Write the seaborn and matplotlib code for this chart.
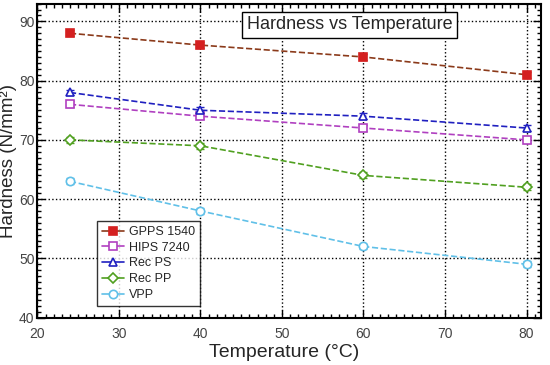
import pandas as pd
import matplotlib.pyplot as plt
import seaborn as sns

# Data
temperature = [24, 40, 60, 80]
series_names = ["GPPS 1540", "HIPS 7240", "Rec PS", "Rec PP", "VPP"]
gpps_1540 = [88, 86, 84, 81]
hips_7240 = [76, 74, 72, 70]
rec_ps = [78, 75, 74, 72]
rec_pp = [70, 69, 64, 62]
vpp = [63, 58, 52, 49]
errors = [0.5, 0.5, 0.5, 0.5]

# Styles per series: line colour, marker colour, marker, filled
styles = {
    "GPPS 1540": ("#8b3a1a", "#d42020", "s", True),
    "HIPS 7240": ("#b040c0", "#b040c0", "s", False),
    "Rec PS": ("#2020c0", "#2020c0", "^", False),
    "Rec PP": ("#50a020", "#50a020", "D", False),
    "VPP": ("#60c0e8", "#60c0e8", "o", False),
}


def build_frame():
    rows = []
    for name, vals in zip(series_names, [gpps_1540, hips_7240, rec_ps, rec_pp, vpp]):
        for t, v, e in zip(temperature, vals, errors):
            rows.append({"Temperature": t, "Hardness": v, "err": e, "Series": name})
    return pd.DataFrame(rows)


def plot_chart(df):
    sns.set_style("ticks")
    plt.rcParams["font.family"] = ["Liberation Sans", "DejaVu Sans"]
    fig, ax = plt.subplots(figsize=(5.5, 3.65), dpi=100)

    for name in series_names:
        sub = df[df["Series"] == name]
        line_c, mark_c, marker, filled = styles[name]
        ax.errorbar(sub["Temperature"], sub["Hardness"], yerr=sub["err"],
                    fmt="none", ecolor=mark_c, elinewidth=1, capsize=3, zorder=2)
        sns.lineplot(data=sub, x="Temperature", y="Hardness", ax=ax,
                     color=line_c, linestyle="--", linewidth=1.2, label=name,
                     marker=marker, markersize=6 if marker != "D" else 5,
                     markerfacecolor=mark_c if filled else "white",
                     markeredgecolor=mark_c, markeredgewidth=1.2, zorder=3)

    ax.set_xlim(20, 81.8)
    ax.set_ylim(40, 93)
    ax.set_xticks([20, 30, 40, 50, 60, 70, 80])
    ax.set_yticks([40, 50, 60, 70, 80, 90])
    ax.xaxis.set_minor_locator(plt.MultipleLocator(1))
    ax.yaxis.set_minor_locator(plt.MultipleLocator(1))
    ax.tick_params(which="both", direction="in", top=True, right=True,
                   labelsize=10, colors="black", labelcolor="#444444")
    ax.tick_params(axis="x", which="major", pad=7)
    ax.tick_params(axis="y", which="major", pad=2)
    ax.tick_params(which="major", length=6, width=1)
    ax.tick_params(which="minor", length=3, width=1)
    for s in ax.spines.values():
        s.set_linewidth(1.5)
        s.set_color("black")
    ax.grid(True, which="major", linestyle=":", color="black", linewidth=1)

    ax.set_xlabel("Temperature (°C)", fontsize=14, va="center")
    ax.set_ylabel("Hardness (N/mm²)", fontsize=13.5, va="center")
    ax.xaxis.set_label_coords(0.49, -0.11)
    ax.yaxis.set_label_coords(-0.057, 0.5)

    ax.text(0.62, 0.933, "Hardness vs Temperature", transform=ax.transAxes,
            ha="center", va="center", fontsize=13,
            bbox=dict(boxstyle="square,pad=0.25", facecolor="white",
                      edgecolor="black", linewidth=1))

    leg = ax.legend(loc="lower left", bbox_to_anchor=(0.119, 0.037),
                    borderaxespad=0, fontsize=9, frameon=True, fancybox=False,
                    handlelength=1.7, borderpad=0.4, labelspacing=0.3,
                    handletextpad=0.4)
    leg.get_frame().set_edgecolor("black")
    leg.get_frame().set_linewidth(1)
    for line in leg.get_lines():
        line.set_linestyle("-")

    fig.subplots_adjust(left=0.068, right=0.984, top=0.99, bottom=0.13)
    fig.savefig("out.png", dpi=100)


def main():
    df = build_frame()
    plot_chart(df)


if __name__ == "__main__":
    main()
